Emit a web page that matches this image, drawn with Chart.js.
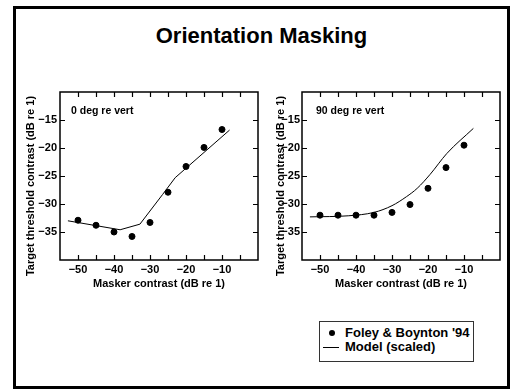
<!DOCTYPE html>
<html>
<head>
<meta charset="utf-8">
<script src="https://cdn.jsdelivr.net/npm/chart.js@4"></script>
<style>
  body { margin: 0; width: 511px; height: 389px; background: #fff; position: relative; overflow: hidden;
         font-family: "Liberation Sans", Arial, sans-serif; font-weight: bold; color: #000; }
  #frame { position: absolute; left: 13px; top: 6px; width: 497px; height: 383px; border: 3px solid #000; box-sizing: border-box; }
  #title { position: absolute; left: 13px; width: 497px; top: 23px; text-align: center; font-size: 22px; line-height: 26px; }
  .plot { position: absolute; top: 80px; }
  #legend { position: absolute; left: 319px; top: 321px; width: 155px; height: 41px; border: 1px solid #333; box-sizing: border-box; font-size: 13px; }
  #legend .txt { position: absolute; left: 25px; line-height: 14px; white-space: nowrap; }
  #legend .dot { position: absolute; left: 9px; width: 6px; height: 6px; border-radius: 50%; background: #000; }
  #legend .line { position: absolute; left: 3px; width: 16px; height: 1px; background: #000; }
</style>
</head>
<body>
<div id="frame"></div>
<div id="title">Orientation Masking</div>
<canvas id="chart0" class="plot" style="left:16px" width="250" height="212"></canvas>
<canvas id="chart90" class="plot" style="left:258px" width="250" height="212"></canvas>
<div id="legend"></div>

<script>
// values (dB re 1)
const maskerContrast = [-50, -45, -40, -35, -30, -25, -20, -15, -10];
const threshold0 = [-32.9, -33.8, -35.0, -35.8, -33.3, -27.9, -23.3, -19.9, -16.7];
const threshold90 = [-32.0, -32.0, -32.0, -32.0, -31.5, -30.1, -27.2, -23.5, -19.5];

const model0X = [-52.8, -38.3, -32.8, -26.5, -23.0, -7.9];
const model0Y = [-33.0, -34.6, -33.6, -28.3, -25.3, -16.8];
const model90X = [-52.8, -42, -35, -30, -26, -23, -19.4, -14.8, -7.4];
const model90Y = [-32.3, -32.1, -31.5, -30.3, -28.7, -27.2, -24.7, -21.0, -16.5];

const xLabels = [-50, -40, -30, -20, -10];
const yLabels = [-35, -30, -25, -20, -15];

const dataLabel = "Foley & Boynton '94";
const modelLabel = "Model (scaled)";
const xTitle = "Masker contrast (dB re 1)";
const yTitle = "Target threshold contrast (dB re 1)";

Chart.defaults.font.family = '"Liberation Sans", Arial, sans-serif';
Chart.defaults.font.weight = 'bold';
Chart.defaults.color = '#000';

const minus = v => (v < 0 ? '\u2212' + Math.abs(v) : String(v));
const pairs = (xs, ys) => xs.map((x, i) => ({ x: x, y: ys[i] }));

// box around the plot area, inward tick marks, panel note and y title
const boxTicks = {
    id: 'boxTicks',
    afterDraw(chart, args, opts) {
        const { ctx, chartArea: a, scales: { x, y } } = chart;
        ctx.save();
        ctx.strokeStyle = '#000';
        ctx.lineWidth = 1.5;
        ctx.strokeRect(a.left, a.top, a.right - a.left, a.bottom - a.top);
        ctx.lineWidth = 1.2;
        ctx.beginPath();
        x.ticks.forEach(t => {
            if (t.value <= x.min || t.value >= x.max) return;
            const px = Math.round(x.getPixelForValue(t.value)) + 0.5;
            ctx.moveTo(px, a.top); ctx.lineTo(px, a.top + 5);
            ctx.moveTo(px, a.bottom); ctx.lineTo(px, a.bottom - 5);
        });
        y.ticks.forEach(t => {
            if (t.value <= y.min || t.value >= y.max) return;
            const py = Math.round(y.getPixelForValue(t.value)) + 0.5;
            ctx.moveTo(a.left, py); ctx.lineTo(a.left + 5, py);
            ctx.moveTo(a.right, py); ctx.lineTo(a.right - 5, py);
        });
        ctx.stroke();

        ctx.fillStyle = '#000';
        ctx.textBaseline = 'middle';
        ctx.font = 'bold 10.5px "Liberation Sans", Arial, sans-serif';
        ctx.textAlign = 'left';
        ctx.fillText(opts.note, a.left + opts.noteDx, a.top + 19);

        ctx.font = 'bold 11px "Liberation Sans", Arial, sans-serif';
        ctx.textAlign = 'center';
        ctx.translate(opts.titleX, (a.top + a.bottom) / 2 + 10);
        ctx.rotate(-Math.PI / 2);
        ctx.fillText(yTitle, 0, 0);
        ctx.restore();
    }
};

function makeChart(canvasId, note, values, modelX, modelY, cfg) {
    const ctx = document.getElementById(canvasId).getContext('2d');
    const modelSet = {
        label: modelLabel,
        data: pairs(modelX, modelY),
        showLine: true,
        borderColor: '#000',
        borderWidth: 1,
        pointRadius: 0,
        tension: 0,
        fill: false
    };
    if (cfg.smooth) modelSet.cubicInterpolationMode = 'monotone';

    return new Chart(ctx, {
        type: 'scatter',
        data: {
            datasets: [{
                label: dataLabel,
                data: pairs(maskerContrast, values),
                backgroundColor: '#000',
                borderColor: '#000',
                pointRadius: 3,
                pointHoverRadius: 3
            }, modelSet]
        },
        options: {
            responsive: false,
            animation: false,
            devicePixelRatio: 1,
            layout: { padding: { left: cfg.padLeft, right: 8, top: 12, bottom: 0 } },
            plugins: {
                legend: { display: false },
                tooltip: { enabled: false },
                boxTicks: { note: note, noteDx: cfg.noteDx, titleX: cfg.titleX }
            },
            scales: {
                x: {
                    type: 'linear',
                    min: -55,
                    max: 0,
                    grid: { display: false, drawTicks: false },
                    border: { display: false },
                    ticks: {
                        stepSize: 5,
                        autoSkip: false,
                        maxRotation: 0,
                        padding: 3,
                        font: { size: 11, weight: 'bold' },
                        callback: v => (xLabels.includes(v) ? minus(v) : '')
                    },
                    title: {
                        display: true,
                        text: xTitle,
                        font: { size: 11, weight: 'bold' },
                        padding: { top: 0, bottom: 1 }
                    },
                    afterFit: s => { s.height = 32; }
                },
                y: {
                    type: 'linear',
                    min: -40,
                    max: -10,
                    grid: { display: false, drawTicks: false },
                    border: { display: false },
                    ticks: {
                        stepSize: 5,
                        autoSkip: false,
                        padding: cfg.yPad,
                        font: { size: 11, weight: 'bold' },
                        callback: v => (yLabels.includes(v) ? minus(v) : '')
                    },
                    afterFit: s => { s.width = cfg.yWidth; }
                }
            }
        },
        plugins: [boxTicks]
    });
}

makeChart('chart0', '0 deg re vert', threshold0, model0X, model0Y,
    { padLeft: 8, yWidth: 36, yPad: 3, noteDx: 11, titleX: 15, smooth: false });
makeChart('chart90', '90 deg re vert', threshold90, model90X, model90Y,
    { padLeft: 16, yWidth: 28, yPad: 2, noteDx: 14, titleX: 22.5, smooth: true });

// shared legend for both panels
const legend = document.getElementById('legend');
legend.innerHTML =
    '<div class="dot" style="top:8px"></div><div class="txt" style="top:4px">' + dataLabel.replace('&', '&amp;') + '</div>' +
    '<div class="line" style="top:25px"></div><div class="txt" style="top:18px">' + modelLabel + '</div>';
</script>
</body>
</html>
